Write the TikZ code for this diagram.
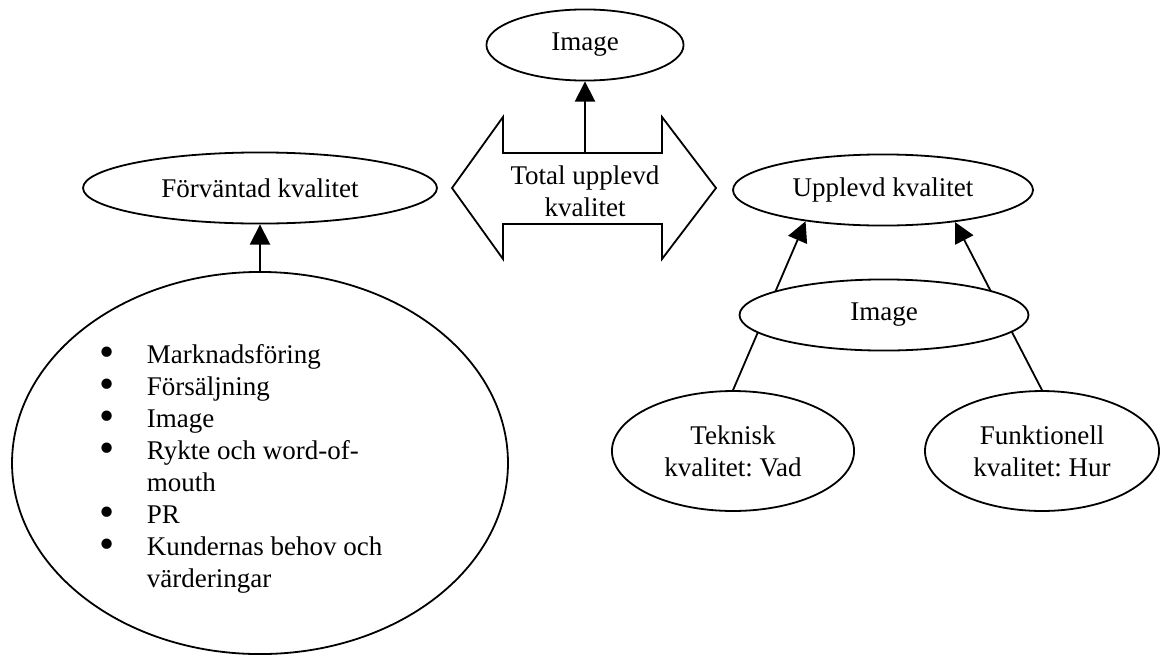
\documentclass[tikz,border=0pt]{standalone}
\usepackage{fontspec}
\setmainfont{Liberation Serif}
\frenchspacing
\usetikzlibrary{positioning,arrows.meta,shapes.geometric,backgrounds}
\tikzset{
  boll/.style={draw, ellipse, inner sep=0pt, minimum height=31.6pt, align=center, fill=white, line width=0.8pt},
  pil/.style={line width=0.8pt, -{Triangle[length=9pt,width=9pt]}},
}
\newcommand{\punkt}{\makebox[20.9pt][l]{\raisebox{-0.2ex}{\scalebox{1.6}{\textbullet}}}}

\begin{document}
\begin{tikzpicture}[x=0.4444pt, y=-0.4444pt, line width=0.8pt, font=\fontsize{12pt}{14.2pt}\selectfont]
    \useasboundingbox (0,0) rectangle (1160,654);
    % mitten
    \node[boll, minimum width=87.6pt] (bild) at (585,45) {Image};
    \draw (452,188) -- (503,117) -- (503,153) -- (662,153) -- (662,117) -- (716,188)
        -- (662,259) -- (662,224) -- (503,224) -- (503,259) -- cycle;
    \node[align=center] (total) at (585,191) {Total upplevd\\kvalitet};
    \coordinate (totaltop) at (585,153);
    \draw[pil] (totaltop) -- (bild.south);
    % vänster
    \node[boll, minimum width=157.3pt] (forvantad) at (260,188) {Förväntad kvalitet};
    \node[boll, minimum width=220.4pt, minimum height=169.8pt] (faktorer) at (260,463) {};
    \node[anchor=north west, align=left, inner sep=0pt] (lista) at (99,344) {
        \punkt Marknadsföring\\
        \punkt Försäljning\\
        \punkt Image\\
        \punkt Rykte och word-of-\\
        \hspace*{20.9pt}mouth\\
        \punkt PR\\
        \punkt Kundernas behov och\\
        \hspace*{20.9pt}värderingar
    };
    \draw[pil] (faktorer.north) -- (forvantad.south);
    % höger
    \node[boll, minimum width=133.3pt] (upplevd) at (883,190) {Upplevd kvalitet};
    \node[boll, minimum width=128.4pt] (bild2) at (884,315) {Image};
    \node[boll, minimum width=107.6pt, minimum height=53.3pt] (teknisk) at (733,451) {Teknisk\\kvalitet: Vad};
    \node[boll, minimum width=104pt, minimum height=53.3pt] (funktionell) at (1042,451) {Funktionell\\kvalitet: Hur};
    \begin{pgfonlayer}{background}
        \draw[pil] (teknisk.north) -- (upplevd.202);
        \draw[pil] (funktionell.north) -- (upplevd.336);
    \end{pgfonlayer}
\end{tikzpicture}
\end{document}
